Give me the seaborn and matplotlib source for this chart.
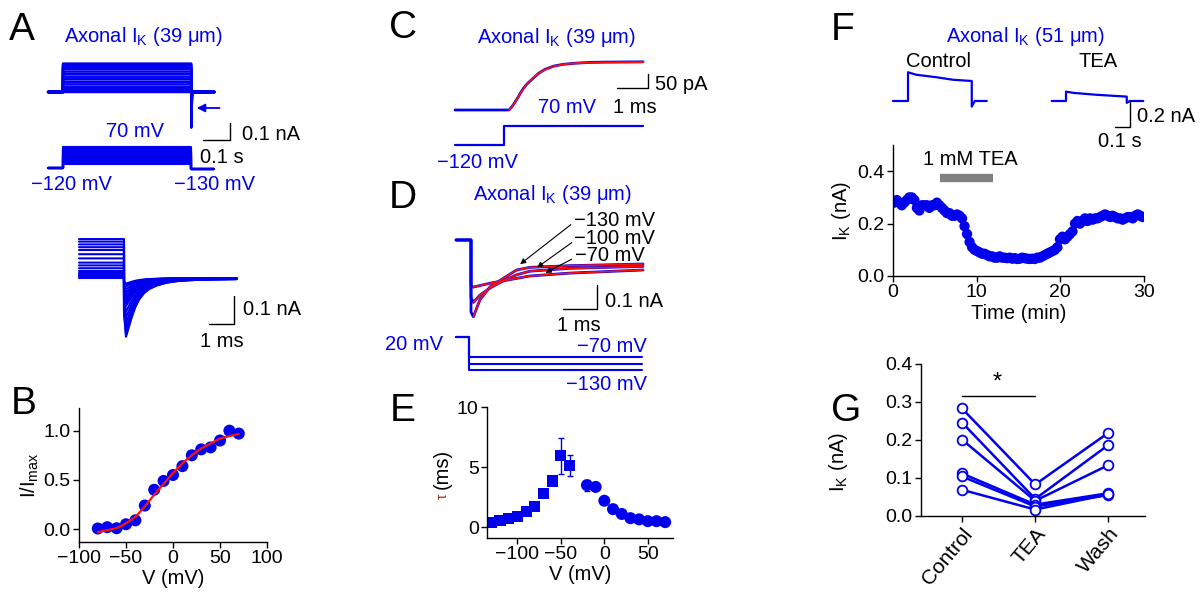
import numpy as np
import pandas as pd
import matplotlib
matplotlib.use('Agg')
import matplotlib.pyplot as plt
import seaborn as sns
from matplotlib.ticker import FormatStrFormatter

sns.set_theme(style='ticks')
plt.rcParams['font.family'] = ['Liberation Sans', 'DejaVu Sans']
plt.rcParams['mathtext.fontset'] = 'custom'
plt.rcParams['mathtext.rm'] = 'Liberation Sans'
plt.rcParams['mathtext.it'] = 'Liberation Sans:italic'
plt.rcParams['mathtext.default'] = 'regular'
plt.rcParams['axes.linewidth'] = 1.0
for k in ['text.color', 'axes.labelcolor', 'xtick.color', 'ytick.color', 'axes.edgecolor']:
    plt.rcParams[k] = 'black'

BLUE = '#0000ee'
RED = '#ff1010'
W, H = 1204, 597
FS = 14.5   # annotation / label text
TS = 14     # tick labels

# ---- data ----
# A: step family (nA), tail peaks (nA), step voltages (mV)
a_volt = [-80, -70, -60, -50, -40, -30, -20, -10, 0, 10, 20, 30, 40, 50, 60, 70]
a_step_i = [0.0, 0.005, 0.01, 0.015, 0.02, 0.03, 0.045, 0.06, 0.075, 0.09, 0.105, 0.12, 0.135, 0.148, 0.16, 0.167]
a_pre_i = [0.0, 0.004, 0.008, 0.012, 0.018, 0.025, 0.035, 0.045, 0.055, 0.07, 0.085, 0.10, 0.11, 0.12, 0.13, 0.139]
a_tail_peak = [-0.02, -0.025, -0.03, -0.04, -0.05, -0.06, -0.07, -0.08, -0.09, -0.10, -0.12, -0.14, -0.16, -0.18, -0.20, -0.21]
tail_t_ms = [0, 0.08, 0.15, 0.3, 0.45, 0.6, 0.8, 1.0, 1.3, 1.7, 2.2, 3.0, 4.5]
tail_shape = [0.6, 1.0, 0.9, 0.68, 0.5, 0.37, 0.26, 0.19, 0.13, 0.08, 0.05, 0.03, 0.02]

# B: I/Imax vs V
b_v = [-80, -70, -60, -50, -40, -30, -20, -10, 0, 10, 20, 30, 40, 50, 60, 70]
b_i = [0.007, 0.02, 0.01, 0.05, 0.09, 0.24, 0.40, 0.49, 0.55, 0.64, 0.75, 0.81, 0.83, 0.90, 1.0, 0.97]
b_fit = [-0.03, -0.01, 0.01, 0.06, 0.125, 0.23, 0.35, 0.46, 0.57, 0.67, 0.75, 0.82, 0.87, 0.92, 0.945, 0.965]

# C: activation at 70 mV (pA)
c_t = [-1.8, 0, 0.1, 0.2, 0.3, 0.4, 0.5, 0.6, 0.8, 1.0, 1.2, 1.5, 1.8, 2.2, 2.7, 3.2, 4.47]
c_i = [0, 0, 12, 28, 45, 64, 80, 93, 113, 132, 145, 157, 163, 167, 170, 171, 172]
c_fit_t = [0, 0.1, 0.2, 0.3, 0.4, 0.5, 0.6, 0.8, 1.0, 1.2, 1.5, 1.8, 2.2, 2.7, 3.2, 4.47]
c_fit_i = [0, 11, 27, 45, 63, 79, 93, 114, 131, 144, 156, 163, 167, 169, 170, 171]

# D: deactivation at -130, -100, -70 mV (nA)
d_t = [0, 0.07, 0.26, 0.56, 0.95, 1.34, 1.73, 2.9, 5.06]
d_m130 = [-0.30, -0.32, -0.25, -0.195, -0.16, -0.125, -0.114, -0.107, -0.10]
d_m100 = [-0.24, -0.26, -0.23, -0.20, -0.17, -0.145, -0.13, -0.118, -0.11]
d_m70 = [-0.19, -0.196, -0.19, -0.18, -0.17, -0.16, -0.15, -0.138, -0.125]
d_volt = [-70, -100, -130]

# E: tau vs V
e_v_sq = [-130, -120, -110, -100, -90, -80, -70, -60, -50, -40]
e_tau_sq = [0.36, 0.55, 0.75, 0.9, 1.33, 1.7, 2.8, 3.85, 5.95, 5.15]
e_err_sq = [0.05, 0.05, 0.05, 0.05, 0.1, 0.1, 0.2, 0.35, 1.5, 0.85]
e_v_ci = [-20, -10, 0, 10, 20, 30, 40, 50, 60, 70]
e_tau_ci = [3.5, 3.35, 2.2, 1.5, 1.1, 0.75, 0.65, 0.5, 0.5, 0.42]
e_err_ci = [0.45, 0.15, 0.1, 0.1, 0.1, 0.05, 0.05, 0.05, 0.05, 0.05]

# F: example traces (nA vs s) and time course
f_ctrl_t = [-0.1, 0, 0, 0.055, 0.19, 0.30, 0.425, 0.425, 0.445, 0.525]
f_ctrl_i = [0, 0, 0.23, 0.21, 0.19, 0.17, 0.16, -0.045, 0, 0]
f_tea_t = [-0.095, 0, 0, 0.05, 0.2, 0.405, 0.405, 0.425, 0.515]
f_tea_i = [0, 0, 0.075, 0.065, 0.05, 0.035, -0.015, 0, 0]
f_time = np.arange(0.15, 30, 0.3)
f_ik = [0.28, 0.29, 0.28, 0.27, 0.28, 0.29, 0.30, 0.30, 0.29,
        0.26, 0.25, 0.27, 0.27, 0.27, 0.26, 0.27, 0.27, 0.28,
        0.27, 0.26, 0.25, 0.24, 0.24, 0.23, 0.23, 0.235, 0.23,
        0.22, 0.19, 0.16, 0.13, 0.11, 0.10, 0.095, 0.09, 0.085,
        0.085, 0.08, 0.075, 0.075, 0.07, 0.07, 0.075, 0.07, 0.07,
        0.068, 0.07, 0.066, 0.068, 0.065, 0.066, 0.07, 0.068, 0.066,
        0.065, 0.066, 0.065, 0.07, 0.07, 0.075, 0.08, 0.085, 0.09,
        0.095, 0.10, 0.11, 0.14, 0.15, 0.14, 0.15, 0.16, 0.17,
        0.20, 0.21, 0.20, 0.21, 0.22, 0.21, 0.22, 0.215, 0.22,
        0.22, 0.225, 0.23, 0.235, 0.23, 0.225, 0.23, 0.225, 0.22,
        0.22, 0.215, 0.22, 0.225, 0.225, 0.22, 0.23, 0.235, 0.23, 0.225]

# G: paired cells
g_cond = ['Control', 'TEA', 'Wash']
g_control = [0.283, 0.246, 0.201, 0.112, 0.104, 0.069]
g_tea = [0.083, 0.045, 0.040, 0.030, 0.025, 0.017]
g_wash = [0.219, 0.187, 0.134, 0.060, 0.055, 0.057]

fig = plt.figure(figsize=(W / 100, H / 100), dpi=100)


def px_axes(l, t, r, b):
    return fig.add_axes([l / W, 1 - b / H, (r - l) / W, (b - t) / H])


def trace_axes(l, t, r, b, x0, y0, sx, sy):
    # (x0, y0) pixel of data origin, sx/sy pixels per data unit
    ax = px_axes(l, t, r, b)
    ax.set_xlim((l - x0) / sx, (r - x0) / sx)
    ax.set_ylim((y0 - b) / sy, (y0 - t) / sy)
    ax.axis('off')
    return ax


def ftext(x, y, s, **kw):
    kw.setdefault('fontsize', FS)
    kw.setdefault('va', 'baseline')
    fig.text(x / W, 1 - y / H, s, **kw)


def style(ax):
    sns.despine(ax=ax)
    ax.tick_params(direction='out', length=4, width=1, labelsize=TS, pad=2, color='black')


def scalebar(ax, x1, x2, y1, y2):
    ax.plot([x1, x2, x2], [y1, y1, y2], color='black', lw=1)


# ---- A ----
ax = trace_axes(40, 50, 250, 145, 63, 92, 270, 170)
for a, p in zip(a_step_i, a_tail_peak):
    ax.plot([-0.055, 0, 0, 0.475, 0.475, 0.478, 0.56], [0, 0, a, a, p, 0, 0], color=BLUE, lw=1.8)
ax.annotate('', xy=(0.485, -0.094), xytext=(0.59, -0.094),
            arrowprops=dict(arrowstyle='-|>', color=BLUE, lw=1.3, mutation_scale=12))
scalebar(ax, 0.519, 0.619, -0.282, -0.182)

ax = trace_axes(40, 140, 250, 175, 63, 154.7, 270, 0.1105)
for v in a_volt:
    ax.plot([-0.055, 0, 0, 0.475, 0.475, 0.56], [-120, -120, v, v, -130, -130], color=BLUE, lw=1.5)

ax = trace_axes(70, 225, 250, 345, 124, 278, 25, 280)
for a, p in zip(a_pre_i, a_tail_peak):
    ax.plot([-1.8, 0] + tail_t_ms, [a, a] + [p * s for s in tail_shape], color=BLUE, lw=1.5)
scalebar(ax, (209 - 124) / 25, (234 - 124) / 25, (278 - 324) / 280, (278 - 296) / 280)

ftext(9, 40, 'A', fontsize=28)
ftext(143, 42, r'Axonal $I_K$ (39 μm)', color=BLUE, ha='center')
ftext(135, 137, '70 mV', color=BLUE, ha='center')
ftext(71, 190, '\u2212120 mV', color=BLUE, ha='center')
ftext(215, 190, '\u2212130 mV', color=BLUE, ha='center')
ftext(242, 140, '0.1 nA')
ftext(200, 163, '0.1 s')
ftext(243, 315, '0.1 nA')
ftext(222, 347, '1 ms', ha='center')

# ---- B ----
ax = px_axes(79, 408, 267, 542)
sns.lineplot(x=b_v, y=b_fit, color=RED, lw=1.6, ax=ax, zorder=3)
sns.scatterplot(x=b_v, y=b_i, color=BLUE, s=75, edgecolor='none', ax=ax, zorder=2)
ax.set_xlim(-100, 100)
ax.set_ylim(-0.13, 1.23)
ax.set_xticks([-100, -50, 0, 50, 100])
ax.set_yticks([0, 0.5, 1.0])
ax.yaxis.set_major_formatter(FormatStrFormatter('%.1f'))
ax.set_xlabel('V (mV)', fontsize=FS, labelpad=1)
ax.set_ylabel(r'I/I$_{max}$', fontsize=FS, labelpad=2)
style(ax)
ftext(11, 414, 'B', fontsize=28)

# ---- C ----
ax = trace_axes(440, 45, 660, 125, 509, 110, 30, 0.28)
ax.plot(c_t, c_i, color=BLUE, lw=2)
ax.plot(c_fit_t, c_fit_i, color=RED, lw=1.3)
scalebar(ax, 3.6, 4.63, 78.6, 128.6)
ax = trace_axes(440, 115, 660, 155, 504, 133, 30, 0.1)
ax.plot([-1.63, 0, 0, 4.63], [-120, -120, 70, 70], color=BLUE, lw=1.6)
ftext(389, 38, 'C', fontsize=28)
ftext(556, 43, r'Axonal $I_K$ (39 μm)', color=BLUE, ha='center')
ftext(655, 90, '50 pA')
ftext(635, 113, '1 ms', ha='center')
ftext(567, 113, '70 mV', color=BLUE, ha='center')
ftext(477, 168, '\u2212120 mV', color=BLUE, ha='center')

# ---- D ----
ax = trace_axes(440, 225, 660, 330, 471, 240, 34, 240)
for tr in (d_m70, d_m100, d_m130):
    ax.plot([-0.44, 0] + d_t, [0, 0] + tr, color=BLUE, lw=2)
for tr in (d_m70, d_m100, d_m130):
    ax.plot(d_t[1:], tr[1:], color=RED, lw=1.2)
scalebar(ax, 2.71, 3.71, -0.2875, -0.1875)
arrow_tips = [(1.38, -0.108, 573, 223), (1.88, -0.121, 574, 241), (2.12, -0.142, 574, 258)]
for tx, ty, px, py in arrow_tips:
    ax.annotate('', xy=(tx, ty), xytext=(px, H - py), textcoords='figure pixels',
                arrowprops=dict(arrowstyle='-|>', color='black', lw=0.8, mutation_scale=8))
ax = trace_axes(440, 330, 660, 380, 469, 341.4, 34, 0.222)
for v in d_volt:
    ax.plot([-0.38, 0, 0, 5.1], [20, 20, v, v], color=BLUE, lw=1.5)
ftext(389, 208, 'D', fontsize=28)
ftext(552, 200, r'Axonal $I_K$ (39 μm)', color=BLUE, ha='center')
ftext(574, 226, '\u2212130 mV')
ftext(574, 244, '\u2212100 mV')
ftext(575, 261, '\u221270 mV')
ftext(605, 307, '0.1 nA')
ftext(579, 331, '1 ms', ha='center')
ftext(414, 350, '20 mV', color=BLUE, ha='center')
ftext(647, 352, '\u221270 mV', color=BLUE, ha='right')
ftext(647, 390, '\u2212130 mV', color=BLUE, ha='right')

# ---- E ----
ax = px_axes(487, 407, 673, 538)
ax.errorbar(e_v_sq, e_tau_sq, yerr=e_err_sq, fmt='none', ecolor=BLUE, elinewidth=1, capsize=2)
ax.errorbar(e_v_ci, e_tau_ci, yerr=e_err_ci, fmt='none', ecolor=BLUE, elinewidth=1, capsize=2)
sns.scatterplot(x=e_v_sq, y=e_tau_sq, marker='s', color=BLUE, s=65, edgecolor='none', ax=ax)
sns.scatterplot(x=e_v_ci, y=e_tau_ci, marker='o', color=BLUE, s=75, edgecolor='none', ax=ax)
ax.set_xlim(-135, 79)
ax.set_ylim(-0.9, 10)
ax.set_xticks([-100, -50, 0, 50])
ax.set_yticks([0, 5, 10])
ax.set_xlabel('V (mV)', fontsize=FS, labelpad=1)
style(ax)
ax.text(-0.24, 0.53, '(ms)', transform=ax.transAxes, rotation=90, fontsize=FS, ha='center', va='center')
ax.text(-0.24, 0.32, 'τ', transform=ax.transAxes, rotation=90, fontsize=10, ha='center', va='center', color='#a03020')
ftext(390, 421, 'E', fontsize=28)

# ---- F ----
ax = trace_axes(880, 55, 1000, 115, 908, 101, 150, 125)
ax.plot(f_ctrl_t, f_ctrl_i, color=BLUE, lw=1.6)
ax = trace_axes(1040, 55, 1150, 130, 1066, 101, 150, 125)
ax.plot(f_tea_t, f_tea_i, color=BLUE, lw=1.6)
scalebar(ax, 0.327, 0.427, -0.208, -0.008)
ftext(831, 40, 'F', fontsize=28)
ftext(1025, 42, r'Axonal $I_K$ (51 μm)', color=BLUE, ha='center')
ftext(938, 67, 'Control', ha='center')
ftext(1098, 67, 'TEA', ha='center')
ftext(1137, 122, '0.2 nA')
ftext(1120, 147, '0.1 s', ha='center')

ax = px_axes(893, 145, 1144, 276)
sns.scatterplot(x=f_time, y=f_ik, color=BLUE, s=55, edgecolor='none', ax=ax)
ax.plot([5.6, 12.0], [0.375, 0.375], color='#808080', lw=6, solid_capstyle='butt')
ax.text(9.2, 0.443, '1 mM TEA', ha='center', va='center', fontsize=FS)
ax.set_xlim(0, 30)
ax.set_ylim(0, 0.5)
ax.set_xticks([0, 10, 20, 30])
ax.set_yticks([0, 0.2, 0.4])
ax.yaxis.set_major_formatter(FormatStrFormatter('%.1f'))
ax.set_xlabel('Time (min)', fontsize=FS, labelpad=2)
ax.set_ylabel(r'I$_K$ (nA)', fontsize=FS, labelpad=3)
style(ax)

# ---- G ----
g_df = pd.DataFrame({
    'cell': list(range(6)) * 3,
    'pos': [0] * 6 + [1] * 6 + [2] * 6,
    'ik': g_control + g_tea + g_wash,
})
ax = px_axes(921, 364, 1145, 516)
sns.lineplot(data=g_df, x='pos', y='ik', units='cell', estimator=None, color=BLUE, lw=1.8,
             marker='o', markersize=7, markerfacecolor='white', markeredgecolor=BLUE,
             markeredgewidth=1.3, ax=ax, legend=False)
ax.plot([0, 1], [0.317, 0.317], color='black', lw=1)
ax.text(0.48, 0.352, '*', ha='center', va='center', fontsize=17)
ax.set_xlim(-0.56, 2.5)
ax.set_ylim(0, 0.4)
ax.set_xticks([0, 1, 2])
ax.set_xticklabels(g_cond, rotation=50, ha='right', rotation_mode='anchor')
ax.set_yticks([0, 0.1, 0.2, 0.3, 0.4])
ax.yaxis.set_major_formatter(FormatStrFormatter('%.1f'))
ax.set_xlabel('')
ax.set_ylabel(r'I$_K$ (nA)', fontsize=FS)
ax.yaxis.set_label_coords((850 - 921) / 224, (516 - 462) / 152)
style(ax)
ax.tick_params(axis='x', labelsize=15)
ftext(831, 421, 'G', fontsize=28)

fig.savefig('out.png', dpi=100)
